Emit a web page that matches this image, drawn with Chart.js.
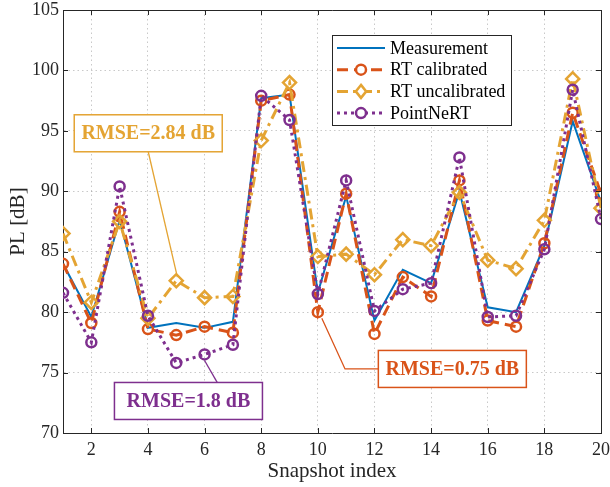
<!DOCTYPE html>
<html><head><meta charset="utf-8">
<script src="https://cdn.jsdelivr.net/npm/chart.js@4.4.1/dist/chart.umd.min.js"></script>
<style>html,body{margin:0;padding:0;background:#fff}#wrap{width:610px;height:487px;position:relative}</style>
</head><body><div id="wrap"><canvas id="c" width="610" height="487"></canvas></div>
<script>
// ---------------- data ----------------
const snapshots = [1,2,3,4,5,6,7,8,9,10,11,12,13,14,15,16,17,18,19,20];
const measurement    = [84.0,79.6,87.6,78.7,79.1,78.7,79.2,97.7,98.0,81.6,89.6,79.3,83.5,82.4,90.0,80.4,80.0,85.5,95.8,89.1];
const rtCalibrated   = [84.0,79.1,88.3,78.6,78.1,78.8,78.3,97.5,98.0,80.0,89.8,78.2,82.9,81.3,90.9,79.3,78.8,85.7,96.5,89.8];
const rtUncalibrated = [86.5,80.8,87.5,79.5,82.6,81.2,81.3,94.2,99.0,84.6,84.8,83.1,86.0,85.5,89.9,84.3,83.6,87.6,99.3,88.6];
const pointNeRT      = [81.6,77.5,90.4,79.7,75.8,76.5,77.3,97.9,95.9,81.5,90.9,80.1,81.9,82.4,92.8,79.6,79.7,85.2,98.4,87.7];
const seriesNames = ['Measurement','RT calibrated','RT uncalibrated','PointNeRT'];
const xTicks = [2,4,6,8,10,12,14,16,18,20];
const yTicks = [70,75,80,85,90,95,100,105];
const rmseLabels = ['RMSE=2.84 dB','RMSE=1.8 dB','RMSE=0.75 dB'];

// ---------------- style ----------------
const C_BLUE='#0072BD', C_ORANGE='#D95319', C_YELLOW='#E4A433', C_PURPLE='#7E2F8E';
const AX='#262626';
const SERIF='"Liberation Serif","Times New Roman",serif';

const pts = arr => snapshots.map((x,i)=>({x:x,y:arr[i]}));

const datasets = [
  {label:seriesNames[0], data:pts(measurement), borderColor:C_BLUE, borderWidth:2, pointRadius:0, borderDash:[], order:3},
  {label:seriesNames[1], data:pts(rtCalibrated), borderColor:C_ORANGE, borderWidth:3, borderDash:[11,6],
    pointStyle:'circle', pointRadius:5, pointBorderWidth:2.5, pointBorderColor:C_ORANGE, pointBackgroundColor:'rgba(0,0,0,0)', order:2},
  {label:seriesNames[2], data:pts(rtUncalibrated), borderColor:C_YELLOW, borderWidth:3, borderDash:[11,5,3,5],
    pointStyle:'rectRot', pointRadius:6.5, pointBorderWidth:2.5, pointBorderColor:C_YELLOW, pointBackgroundColor:'rgba(0,0,0,0)', order:1},
  {label:seriesNames[3], data:pts(pointNeRT), borderColor:C_PURPLE, borderWidth:3, borderDash:[3,4],
    pointStyle:'circle', pointRadius:5, pointBorderWidth:2.5, pointBorderColor:C_PURPLE, pointBackgroundColor:'rgba(0,0,0,0)', order:0}
];

// annotations: box center in data coords, leader line path in data coords
const annotations = [
  {text:rmseLabels[0], color:C_YELLOW, cx:4.01, cy:94.8, w:148, h:37, path:[[4.01,93.27],[5.04,82.9]]},
  {text:rmseLabels[1], color:C_PURPLE, cx:5.43, cy:72.65, w:148, h:37, path:[[6.46,74.13],[6.0,76.0]]},
  {text:rmseLabels[2], color:C_ORANGE, cx:14.75, cy:75.3, w:148, h:37, path:[[12.16,75.3],[10.96,75.3],[10.14,79.5]]}
];

const framePlugin = {
  id:'frame',
  afterDatasetsDraw(chart){
    const ctx=chart.ctx, a=chart.chartArea, xs=chart.scales.x, ys=chart.scales.y;
    ctx.save();
    // annotations
    annotations.forEach(an=>{
      ctx.strokeStyle=an.color; ctx.lineWidth=1.3; ctx.setLineDash([]);
      ctx.beginPath();
      an.path.forEach((p,i)=>{const px=xs.getPixelForValue(p[0]), py=ys.getPixelForValue(p[1]); if(i===0) ctx.moveTo(px,py); else ctx.lineTo(px,py);});
      ctx.stroke();
      const cx=xs.getPixelForValue(an.cx), cy=ys.getPixelForValue(an.cy);
      ctx.fillStyle='#fff'; ctx.fillRect(cx-an.w/2, cy-an.h/2, an.w, an.h);
      ctx.lineWidth=1.5; ctx.strokeRect(cx-an.w/2, cy-an.h/2, an.w, an.h);
      ctx.fillStyle=an.color; ctx.font='bold 20px '+SERIF; ctx.textAlign='center'; ctx.textBaseline='middle';
      ctx.fillText(an.text, cx, cy+1);
    });
    // box top/right
    ctx.strokeStyle=AX; ctx.lineWidth=1; ctx.setLineDash([]);
    ctx.beginPath();
    ctx.moveTo(a.left, a.top+0.5); ctx.lineTo(a.right+0.5, a.top+0.5); ctx.lineTo(a.right+0.5, a.bottom);
    ctx.stroke();
    // inward ticks
    const tl=5;
    ctx.beginPath();
    xTicks.forEach(v=>{const px=Math.round(xs.getPixelForValue(v))+0.5; ctx.moveTo(px,a.bottom); ctx.lineTo(px,a.bottom-tl); ctx.moveTo(px,a.top); ctx.lineTo(px,a.top+tl);});
    yTicks.forEach(v=>{const py=Math.round(ys.getPixelForValue(v))+0.5; ctx.moveTo(a.left,py); ctx.lineTo(a.left+tl,py); ctx.moveTo(a.right,py); ctx.lineTo(a.right-tl,py);});
    ctx.stroke();
    // legend
    const lx=a.left+269, ly=a.top+25, lw=179, lh=90;
    ctx.fillStyle='#fff'; ctx.fillRect(lx,ly,lw,lh);
    ctx.strokeStyle=AX; ctx.lineWidth=1; ctx.strokeRect(lx+0.5,ly+0.5,lw,lh);
    datasets.forEach((ds,i)=>{
      const y=ly+13+i*21.7;
      ctx.save();
      ctx.strokeStyle=ds.borderColor; ctx.lineWidth=ds.borderWidth; ctx.setLineDash(ds.borderDash);
      ctx.beginPath(); ctx.moveTo(lx+5,y); ctx.lineTo(lx+53,y); ctx.stroke();
      ctx.setLineDash([]);
      if(ds.pointRadius>0){
        const mx=lx+29;
        ctx.fillStyle='#fff';
        ctx.lineWidth=ds.pointBorderWidth;
        ctx.beginPath();
        if(ds.pointStyle==='rectRot'){const r=ds.pointRadius; ctx.moveTo(mx,y-r); ctx.lineTo(mx+r*0.8,y); ctx.lineTo(mx,y+r); ctx.lineTo(mx-r*0.8,y); ctx.closePath();}
        else{ctx.arc(mx,y,ds.pointRadius,0,Math.PI*2);}
        ctx.fill(); ctx.stroke();
      }
      ctx.restore();
      ctx.fillStyle='#000'; ctx.font='18px '+SERIF; ctx.textAlign='left'; ctx.textBaseline='middle';
      ctx.fillText(ds.label, lx+58, y+1);
    });
    ctx.restore();
  }
};

new Chart(document.getElementById('c'), {
  type:'line',
  data:{datasets:datasets},
  options:{
    responsive:false, animation:false, devicePixelRatio:1,
    layout:{padding:{left:0,top:10,right:7,bottom:0}},
    plugins:{legend:{display:false}, tooltip:{enabled:false}},
    elements:{line:{tension:0, borderCapStyle:'butt'}},
    scales:{
      x:{type:'linear', min:1, max:20,
        afterBuildTicks:s=>{s.ticks=xTicks.map(v=>({value:v}));},
        afterFit:s=>{s.height=54; s.paddingLeft=0; s.paddingRight=0;},
        ticks:{font:{family:SERIF,size:18}, color:AX, padding:6, autoSkip:false, maxRotation:0},
        grid:{color:'rgba(38,38,38,0.25)', lineWidth:1, drawTicks:false},
        border:{color:AX, width:1, dash:[1.5,3]},
        title:{display:true, text:'Snapshot index', font:{family:SERIF,size:21}, color:AX, padding:{top:0,bottom:2.5}}
      },
      y:{type:'linear', min:70, max:105,
        afterBuildTicks:s=>{s.ticks=yTicks.map(v=>({value:v}));},
        afterFit:s=>{s.width=63; s.paddingTop=0; s.paddingBottom=0;},
        ticks:{font:{family:SERIF,size:18}, color:AX, padding:4},
        grid:{color:'rgba(38,38,38,0.25)', lineWidth:1, drawTicks:false},
        border:{color:AX, width:1, dash:[1.5,3]},
        title:{display:true, text:'PL [dB]', font:{family:SERIF,size:21}, color:AX, padding:{top:6,bottom:0}}
      }
    }
  },
  plugins:[framePlugin]
});
</script></body></html>
